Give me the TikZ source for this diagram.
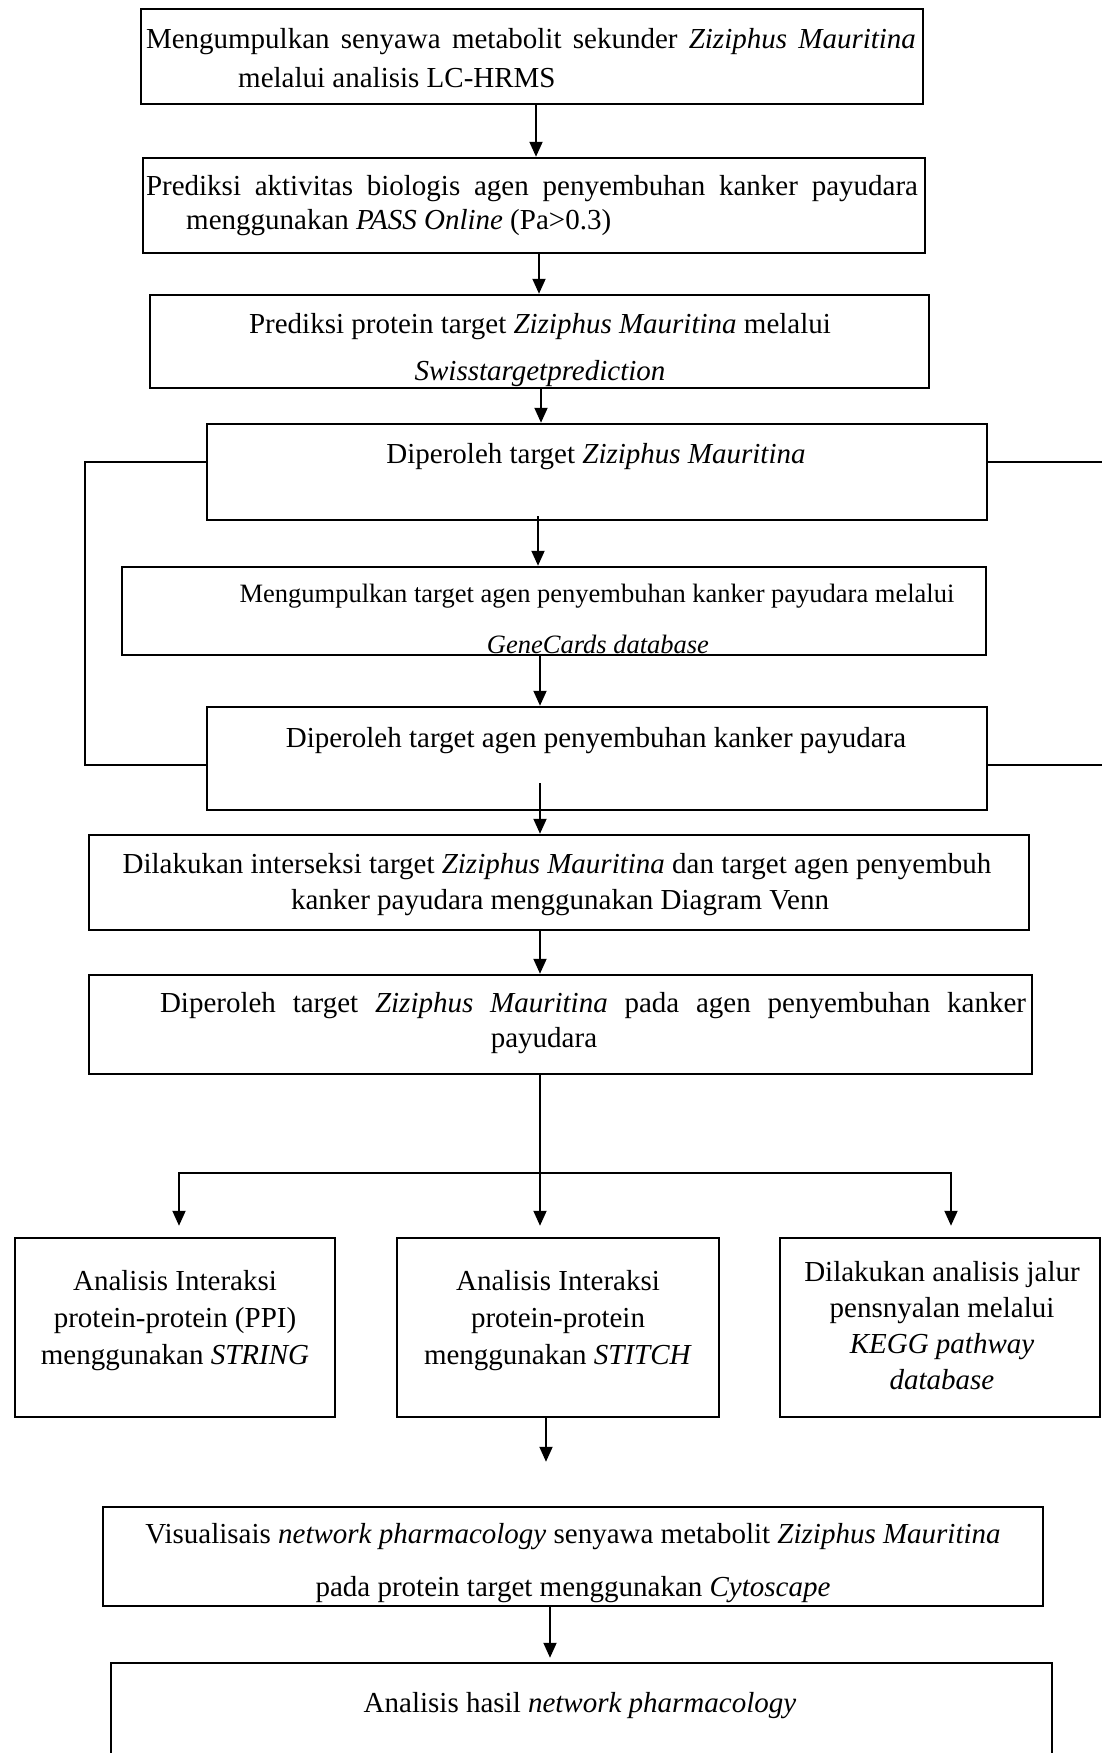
\documentclass[tikz,border=0pt]{standalone}
\usepackage{fontspec}
\setmainfont{Liberation Serif}
\usetikzlibrary{arrows.meta}
\begin{document}
\begin{tikzpicture}[x=1pt,y=-1pt,
  box/.style={draw, line width=2.5pt, inner sep=0pt},
  txt/.style={inner sep=0pt, yshift=-3pt, font=\fontsize{29}{35}\selectfont},
  small/.style={inner sep=0pt, yshift=-3pt, font=\fontsize{26.5}{32}\selectfont},
  conn/.style={line width=1.9pt},
  arr/.style={conn, -{Triangle[length=15pt,width=13pt]}}]
\clip (0,0) rectangle (1102,1753);
\fill[white] (0,0) rectangle (1102,1753);
% boxes
\node[box, minimum width=782pt, minimum height=95pt] (b1) at (532,56.5) {};
\node[box, minimum width=782pt, minimum height=95pt] (b2) at (534,205.5) {};
\node[box, minimum width=779pt, minimum height=93pt] (b3) at (539.5,341.5) {};
\node[box, minimum width=780pt, minimum height=96pt] (b4) at (597,472) {};
\node[box, minimum width=864pt, minimum height=88pt] (b5) at (554,611) {};
\node[box, minimum width=780pt, minimum height=103pt] (b6) at (597,758.5) {};
\node[box, minimum width=940pt, minimum height=95pt] (b7) at (559,882.5) {};
\node[box, minimum width=943pt, minimum height=99pt] (b8) at (560.5,1024.5) {};
\node[box, minimum width=320pt, minimum height=179pt] (b9) at (175,1327.5) {};
\node[box, minimum width=322pt, minimum height=179pt] (b10) at (558,1327.5) {};
\node[box, minimum width=320pt, minimum height=179pt] (b11) at (940,1327.5) {};
\node[box, minimum width=940pt, minimum height=99pt] (b12) at (573,1556.5) {};
\node[box, minimum width=941pt, minimum height=137pt] (b13) at (581.5,1731.5) {};
% texts
\node[txt] (t1a) at (531,39) {\makebox[770pt][s]{Mengumpulkan senyawa metabolit sekunder \textit{Ziziphus Mauritina}}};
\node[txt, anchor=west] (t1b) at (238,75) {melalui analisis LC-HRMS};
\node[txt] (t2a) at (532,186) {\makebox[772pt][s]{Prediksi aktivitas biologis agen penyembuhan kanker payudara}};
\node[txt, anchor=west] (t2b) at (186,220) {menggunakan \textit{PASS Online} (Pa>0.3)};
\node[txt] (t3a) at (540,324) {Prediksi protein target \textit{Ziziphus Mauritina} melalui};
\node[txt] (t3b) at (540,371) {\textit{Swisstargetprediction}};
\node[txt] (t4) at (596,454) {Diperoleh target \textit{Ziziphus Mauritina}};
\node[small] (t5a) at (597,593) {Mengumpulkan target agen penyembuhan kanker payudara melalui};
\node[small] (t5b) at (598,641) {\textit{GeneCards database}};
\node[txt] (t6) at (596,738) {Diperoleh target agen penyembuhan kanker payudara};
\node[txt] (t7a) at (557,864) {Dilakukan interseksi target \textit{Ziziphus Mauritina} dan target agen penyembuh};
\node[txt] (t7b) at (560,900) {kanker payudara menggunakan Diagram Venn};
\node[txt] (t8a) at (593,1003) {\makebox[866pt][s]{Diperoleh target \textit{Ziziphus Mauritina} pada agen penyembuhan kanker}};
\node[txt] (t8b) at (544,1038) {payudara};
\node[txt, align=center, font=\fontsize{29}{37}\selectfont] (t9) at (175,1318) {Analisis Interaksi\\protein-protein (PPI)\\menggunakan \textit{STRING}};
\node[txt, align=center, font=\fontsize{29}{37}\selectfont] (t10) at (558,1318) {Analisis Interaksi\\protein-protein\\menggunakan \textit{STITCH}};
\node[txt, align=center, font=\fontsize{29}{36}\selectfont] (t11) at (942,1323) {Dilakukan analisis jalur\\pensnyalan melalui\\\textit{KEGG pathway}\\\textit{database}};
\node[txt] (t12a) at (573,1534) {Visualisais \textit{network pharmacology} senyawa metabolit \textit{Ziziphus Mauritina}};
\node[txt] (t12b) at (573,1587) {pada protein target menggunakan \textit{Cytoscape}};
\node[txt] (t13) at (580,1703) {Analisis hasil \textit{network pharmacology}};
% connectors
\draw[arr] (536,0 |- b1.south) -- (536,0 |- b2.north);
\draw[arr] (539,0 |- b2.south) -- (539,0 |- b3.north);
\draw[arr] (541,0 |- b3.south) -- (541,0 |- b4.north);
\draw[arr] ([yshift=5pt]b4.south -| 538,0) -- (538,0 |- b5.north);
\draw[arr] (540,0 |- b5.south) -- (540,0 |- b6.north);
\draw[arr] ([yshift=28pt]b6.south -| 540,0) -- (540,0 |- b7.north);
\draw[arr] (540,0 |- b7.south) -- (540,0 |- b8.north);
% side bracket
\coordinate (lk1) at (85,462);
\coordinate (lk2) at (85,765);
\coordinate (r1) at (1106,462);
\coordinate (r2) at (1106,765);
\draw[conn] (b4.west |- lk1) -- (lk1) -- (lk2) -- (b6.west |- lk2);
\draw[conn] (b4.east |- r1) -- (r1);
\draw[conn] (b6.east |- r2) -- (r2);
% branch
\coordinate (j) at (540,1173);
\draw[conn] (b8.south -| j) -- (j);
\draw[arr, shorten >=11pt] (j) -- (j |- b10.north);
\draw[arr, shorten >=11pt] (j) -| (179,0 |- b9.north);
\draw[arr, shorten >=11pt] (j) -| (951,0 |- b11.north);
% bottom
\draw[arr, shorten >=44pt] (546,0 |- b10.south) -- (546,0 |- b12.north);
\draw[arr, shorten >=4pt] (550,0 |- b12.south) -- (550,0 |- b13.north);
\end{tikzpicture}
\end{document}
